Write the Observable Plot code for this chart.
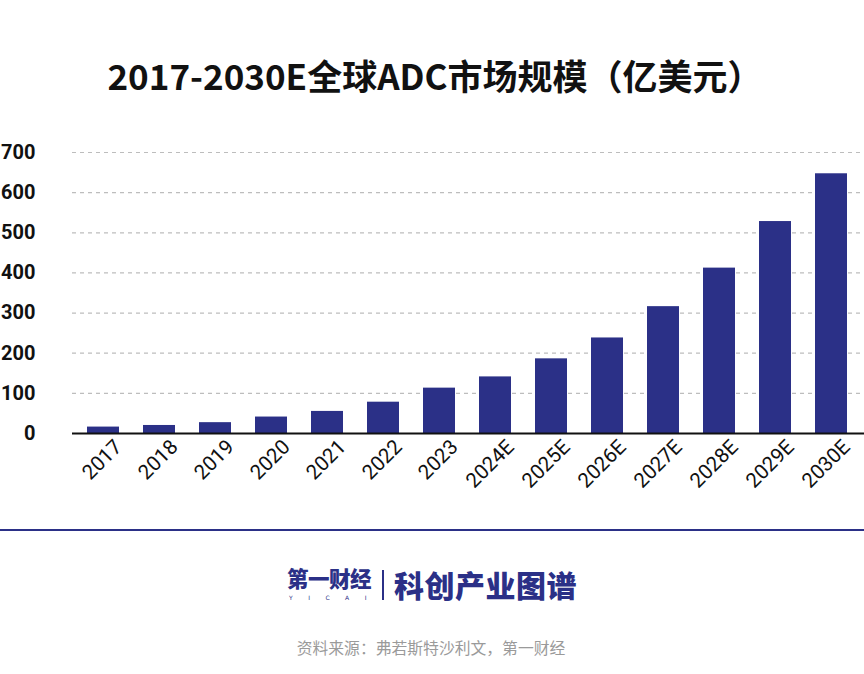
<!DOCTYPE html>
<html>
<head>
<meta charset="utf-8">
<script src="https://cdn.jsdelivr.net/npm/d3@7"></script>
<script src="https://cdn.jsdelivr.net/npm/@observablehq/plot@0.6"></script>
<style>
  html, body { margin: 0; padding: 0; background: #fff; }
  #root { position: relative; width: 864px; height: 674px; overflow: hidden; background: #fff; }
  .abs { position: absolute; white-space: nowrap; }
  #title { left: 8px; width: 854px; top: 55px; text-align: center; font-family: "Noto Sans CJK SC", sans-serif; font-weight: 700; font-size: 35px; line-height: 40px; color: #111; }
  #chart { position: absolute; left: 0; top: 120px; }
  #divider { left: 0; top: 529px; width: 864px; height: 2px; background: #2b3087; }
  #brand1 { left: 287px; top: 565px; font-family: "Noto Sans CJK SC", sans-serif; font-weight: 900; font-size: 21.5px; line-height: 26px; color: #2b3087; letter-spacing: -0.5px; }
  #yicai { left: 289px; top: 594px; font-family: "DejaVu Sans", sans-serif; font-size: 6px; line-height: 8px; color: #2b3087; letter-spacing: 15.5px; }
  #vbar { left: 382px; top: 570px; width: 2px; height: 30px; background: #2b3087; }
  #brand2 { left: 394px; top: 565px; font-family: "Noto Sans CJK SC", sans-serif; font-weight: 900; font-size: 30px; line-height: 38px; color: #2b3087; letter-spacing: 0.5px; }
  #source { left: 0; width: 862px; top: 638px; text-align: center; font-family: "Noto Sans CJK SC", sans-serif; font-size: 15.8px; line-height: 20px; color: #9a9a9a; }
</style>
</head>
<body>
<div id="root">
  <div id="title" class="abs">2017-2030E全球ADC市场规模（亿美元）</div>
  <div id="chart"></div>
  <div id="divider" class="abs"></div>
  <div id="brand1" class="abs">第一财经</div>
  <div id="yicai" class="abs">YICAI</div>
  <div id="vbar" class="abs"></div>
  <div id="brand2" class="abs">科创产业图谱</div>
  <div id="source" class="abs">资料来源：弗若斯特沙利文，第一财经</div>
</div>
<script>
const years = ["2017","2018","2019","2020","2021","2022","2023","2024E","2025E","2026E","2027E","2028E","2029E","2030E"];
const values = [16, 20, 27, 41, 55, 78, 113, 141, 186, 238, 316, 412, 528, 647];
const yTicks = [0, 100, 200, 300, 400, 500, 600, 700];

const data = years.map((year, i) => ({year, value: values[i]}));
const barColor = "#2b3087";

const chart = Plot.plot({
  width: 864,
  height: 400,
  marginLeft: 72,
  marginRight: 2,
  marginTop: 32,
  marginBottom: 87,
  style: {background: "transparent", overflow: "visible"},
  x: {domain: years, paddingInner: 0.43, paddingOuter: 0.23, label: null},
  y: {domain: [0, 700], label: null},
  marks: [
    Plot.ruleY(yTicks.filter(d => d > 0), {stroke: "#bdbdbd", strokeWidth: 1.2, strokeDasharray: "4,4", insetRight: -2}),
    Plot.barY(data, {x: "year", y: "value", fill: barColor}),
    Plot.ruleY([0], {stroke: "#111", strokeWidth: 2, insetRight: -2}),
    Plot.axisY({ticks: yTicks, tickSize: 0, tickPadding: 37, fontSize: 20, fontWeight: "bold", fontFamily: "Roboto", fill: "#111", label: null}),
    Plot.axisX({tickSize: 0, tickRotate: -45, tickPadding: 10, dx: 15, fontSize: 20.5, fontFamily: "Roboto", fill: "#111", label: null})
  ]
});
document.getElementById("chart").appendChild(chart);
</script>
</body>
</html>
